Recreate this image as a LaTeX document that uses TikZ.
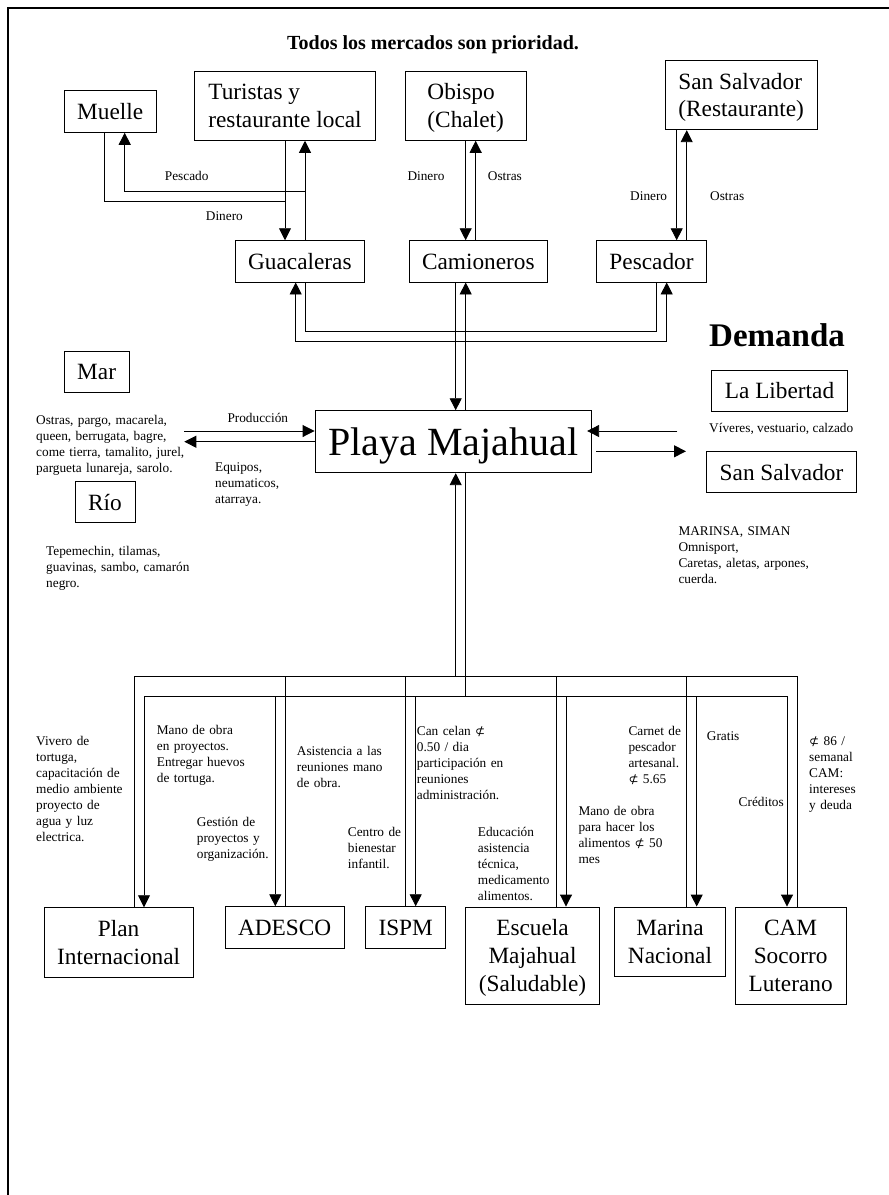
\documentclass[tikz,border=0pt]{standalone}
\usepackage{fontspec}
\setmainfont{Liberation Serif}
\newfontfamily\symf{DejaVu Sans}
\usetikzlibrary{arrows.meta}
\newcommand\smallf{\fontsize{13.3}{16}\selectfont}
\newcommand\boxf{\fontsize{23.3}{27.8}\selectfont}
\newcommand\playaf{\fontsize{40}{48}\selectfont}
\newcommand\csym{{\symf\fontsize{12}{16}\selectfont ⊄}}
\tikzset{
  box/.style={draw, line width=0.9pt, inner sep=0pt, font=\boxf, text depth=0pt},
  lbl/.style={inner sep=0pt, font=\smallf, anchor=base west, align=left},
  mlbl/.style={lbl, text width=220pt},
  conn/.style={line width=0.9pt},
  arr/.style={conn, -{Triangle[length=12pt,width=12pt]}},
  arrs/.style={conn, {Triangle[length=12pt,width=12pt]}-{Triangle[length=12pt,width=12pt]}}
}
\begin{document}
\begin{tikzpicture}[x=1pt,y=-1pt]
\useasboundingbox (0,0) rectangle (889,1195);
\draw[line width=2pt] (7.5,1195) -- (7.5,8) -- (889,8);

% title
\node[inner sep=0pt, anchor=base west, font={\fontsize{20}{24}\selectfont\bfseries}] (title) at (287,49.3) {Todos los mercados son prioridad.};
\node[inner sep=0pt, anchor=base west, font={\fontsize{33}{40}\selectfont\bfseries}] (demanda) at (709,346.7) {Demanda};

% top boxes
\node[box, minimum width=92.3pt, minimum height=41.6pt] (muelle) at (110.15,111.5) {Muelle};
\node[box, align=left, minimum width=180.6pt, minimum height=69.3pt] (turistas) at (285,105.65) {Turistas y\\restaurante local};
\node[box, align=left, minimum width=120.7pt, minimum height=69.3pt] (obispo) at (465.65,105.65) {Obispo\\(Chalet)};
\node[box, align=left, minimum width=152.3pt, minimum height=69.4pt] (sansalr) at (741.15,95) {San Salvador\\(Restaurante)};
\node[box, minimum width=129.7pt, minimum height=41.3pt] (guac) at (299.85,261.35) {Guacaleras};
\node[box, minimum width=138.7pt, minimum height=41.3pt] (camion) at (478.35,261.35) {Camioneros};
\node[box, minimum width=110.4pt, minimum height=41.3pt] (pescador) at (651.5,261.35) {Pescador};

% middle
\node[box, font=\playaf, minimum width=276.7pt, minimum height=62pt] (playa) at (453.35,441.7) {Playa Majahual};
\node[box, minimum width=65.3pt, minimum height=41.3pt] (mar) at (96.65,371.65) {Mar};
\node[box, minimum width=60pt, minimum height=41pt] (rio) at (105,502.2) {Río};
\node[box, minimum width=135.6pt, minimum height=41pt] (lib) at (779.5,390.5) {La Libertad};
\node[box, minimum width=149.6pt, minimum height=41.4pt] (sansal) at (781.5,472) {San Salvador};

% bottom boxes
\node[box, align=center, minimum width=149.3pt, minimum height=69.3pt] (plan) at (118.65,942.35) {Plan\\Internacional};
\node[box, minimum width=119.3pt, minimum height=41.3pt] (adesco) at (284.65,927.35) {ADESCO};
\node[box, minimum width=80pt, minimum height=41.3pt] (ispm) at (405.7,927.35) {ISPM};
\node[box, align=center, minimum width=133.6pt, minimum height=97pt] (escuela) at (532.5,955.5) {Escuela\\Majahual\\(Saludable)};
\node[box, align=center, minimum width=110.6pt, minimum height=69pt] (marina) at (670,941.5) {Marina\\Nacional};
\node[box, align=center, minimum width=110.7pt, minimum height=97pt] (cam) at (790.65,955.5) {CAM\\Socorro\\Luterano};

% top connectors
\draw[arr] (turistas.south) -- (turistas.south |- guac.north);
\draw[conn] ([xshift=-5.45pt]muelle.south) |- ([yshift=-60.4pt]turistas.south);
\draw[arr] ([xshift=5.15pt]guac.north) -- ([xshift=20pt]turistas.south);
\draw[arr] ([xshift=20pt,yshift=-50.4pt]turistas.south) -| ([xshift=14.55pt]muelle.south);
\draw[arr] (obispo.south) -- (obispo.south |- camion.north);
\draw[arr] ([xshift=10pt]obispo.south |- camion.north) -- ([xshift=10pt]obispo.south);
\draw[arr] ([xshift=25.2pt]pescador.north |- sansalr.south) -- ([xshift=25.2pt]pescador.north);
\draw[arr] ([xshift=35.2pt]pescador.north) -- ([xshift=35.2pt]pescador.north |- sansalr.south);

% guacaleras - pescador loops
\draw[conn] ([xshift=5.15pt]guac.south) -- ++(0,49) -| ([xshift=5.2pt]pescador.south);
\draw[arrs] ([xshift=-4.15pt]guac.south) -- ++(0,59) -| ([xshift=15.2pt]pescador.south);

% camioneros - playa
\draw[arr] ([xshift=-22.65pt]camion.south) -- ([xshift=-22.65pt]camion.south |- playa.north);
\draw[arr] ([xshift=-12.65pt]camion.south |- playa.north) -- ([xshift=-12.65pt]camion.south);

% left / right arrows
\coordinate (pL) at (184.3,431);
\coordinate (eL) at (184.3,441.7);
\draw[arr] (pL) -- (pL -| playa.west);
\draw[arr] (playa.west |- eL) -- (eL);
\coordinate (vR) at (677.3,431);
\draw[arr] (vR) -- ([xshift=-5pt]vR -| playa.east);
\coordinate (sR) at (686,451.3);
\draw[arr] ([xshift=4.3pt]playa.east |- sR) -- (sR);

% bottom buses
\coordinate (busout) at (0,676);
\coordinate (busin) at (0,696);
\draw[arr] ([xshift=2.35pt]playa.south |- busout) -- ([xshift=2.35pt]playa.south);
\draw[conn] ([xshift=12.35pt]playa.south) -- ([xshift=12.35pt]playa.south |- busin);
\draw[conn] ([xshift=16.05pt]plan.north) -- ([xshift=16.05pt]plan.north |- busout) -- ([xshift=6.35pt]cam.north |- busout) -- ([xshift=6.35pt]cam.north);
\draw[conn] ([xshift=0.35pt]adesco.north |- busout) -- ([xshift=0.35pt]adesco.north);
\draw[conn] (ispm.north |- busout) -- (ispm.north);
\draw[conn] ([xshift=23.5pt]escuela.north |- busout) -- ([xshift=23.5pt]escuela.north);
\draw[conn] ([xshift=16.7pt]marina.north |- busout) -- ([xshift=16.7pt]marina.north);
\draw[arrs] ([xshift=25.35pt]plan.north) -- ([xshift=25.35pt]plan.north |- busin) -- ([xshift=-3.65pt]cam.north |- busin) -- ([xshift=-3.65pt]cam.north);
\draw[arr] ([xshift=-9.35pt]adesco.north |- busin) -- ([xshift=-9.35pt]adesco.north);
\draw[arr] ([xshift=10pt]ispm.north |- busin) -- ([xshift=10pt]ispm.north);
\draw[arr] ([xshift=33.5pt]escuela.north |- busin) -- ([xshift=33.5pt]escuela.north);
\draw[arr] ([xshift=26.7pt]marina.north |- busin) -- ([xshift=26.7pt]marina.north);

% labels top
\node[lbl] (lpesc) at (164.7,180.3) {Pescado};
\node[lbl] (ldin1) at (205.7,220) {Dinero};
\node[lbl] (ldin2) at (407.3,180) {Dinero};
\node[lbl] (lost2) at (487.7,180) {Ostras};
\node[lbl] (ldin3) at (630,200) {Dinero};
\node[lbl] (lost3) at (710,200) {Ostras};

% labels middle
\node[lbl] (lprod) at (227.3,422.3) {Producción};
\node[mlbl] (lequip) at (215,471) {Equipos,\\neumaticos,\\atarraya.};
\node[mlbl] (lmar) at (36,424) {Ostras, pargo, macarela,\\queen, berrugata, bagre,\\come tierra, tamalito, jurel,\\pargueta lunareja, sarolo.};
\node[mlbl] (lrio) at (46,555.7) {Tepemechin, tilamas,\\guavinas, sambo, camarón\\negro.};
\node[lbl] (lviv) at (709,432) {Víveres, vestuario, calzado};
\node[mlbl] (lmarinsa) at (678.3,535) {MARINSA, SIMAN\\Omnisport,\\Caretas, aletas, arpones,\\cuerda.};

% labels bottom
\node[mlbl] (lvivero) at (36,745.3) {Vivero de\\tortuga,\\capacitación de\\medio ambiente\\proyecto de\\agua y luz\\electrica.};
\node[mlbl] (lmano1) at (156.7,734.7) {Mano de obra\\en proyectos.\\Entregar huevos\\de tortuga.};
\node[mlbl] (lgest) at (196.7,826.7) {Gestión de\\proyectos y\\organización.};
\node[mlbl] (lasis) at (296.7,755) {Asistencia a las\\reuniones mano\\de obra.};
\node[mlbl] (lcentro) at (347.7,836) {Centro de\\bienestar\\infantil.};
\node[mlbl] (lcan) at (416.7,735.7) {Can celan \csym\\0.50 / dia\\participación en\\reuniones\\administración.};
\node[mlbl] (leduc) at (477.7,836) {Educación\\asistencia\\técnica,\\medicamento\\alimentos.};
\node[mlbl] (lcarnet) at (628.3,735.7) {Carnet de\\pescador\\artesanal.\\\csym\ 5.65};
\node[mlbl] (lmano2) at (578.3,815) {Mano de obra\\para hacer los\\alimentos \csym\ 50\\mes};
\node[lbl] (lgratis) at (706.7,740.7) {Gratis};
\node[lbl, anchor=base east] (lcred) at (784,806.7) {Créditos};
\node[mlbl] (l86) at (809,745) {\csym\ 86 /\\semanal\\CAM:\\intereses\\y deuda};
\end{tikzpicture}
\end{document}
